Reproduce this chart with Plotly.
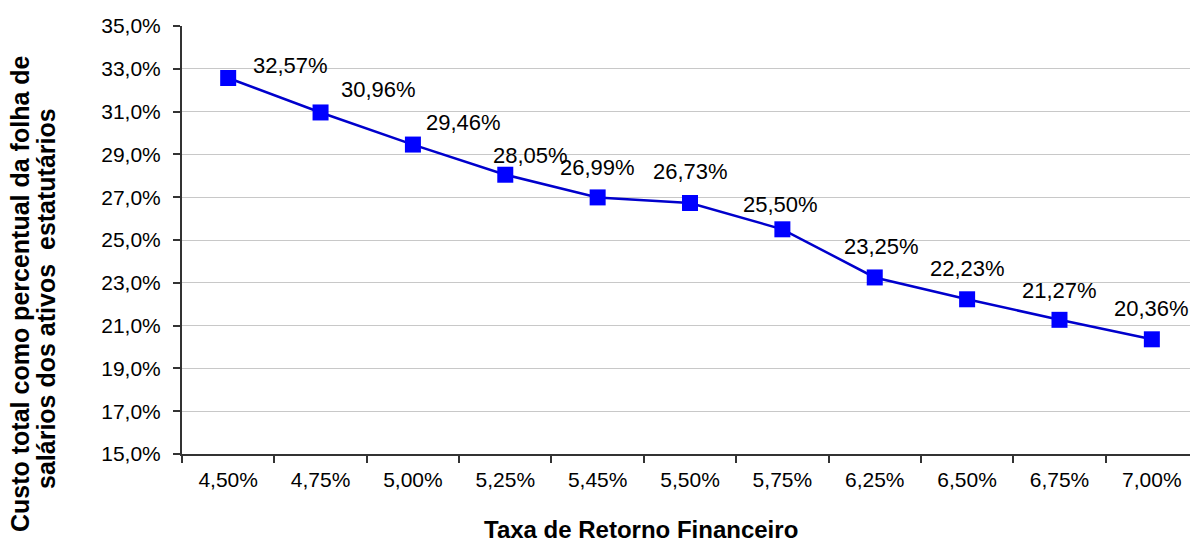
import plotly.graph_objects as go

categories = ["4,50%", "4,75%", "5,00%", "5,25%", "5,45%", "5,50%", "5,75%", "6,25%", "6,50%", "6,75%", "7,00%"]
values = [32.57, 30.96, 29.46, 28.05, 26.99, 26.73, 25.50, 23.25, 22.23, 21.27, 20.36]
y_ticks = [15, 17, 19, 21, 23, 25, 27, 29, 31, 33, 35]

# label placement offsets (pixels) relative to each marker
label_dx = [62, 58, 51, 25, 0, 0, -2, 7, 0, 0, 0]
label_dy = [13, 23, 22, 19, 30, 31, 25, 31, 31, 29, 31]

font = "Liberation Sans, Arial, sans-serif"
W, H = 1190, 547
ml, mr, mt, mb = 182, 0, 26, 93
pw, ph = W - ml - mr, H - mt - mb

fig = go.Figure()
fig.add_trace(go.Scatter(
    x=categories, y=values, mode="lines+markers",
    line=dict(color="#0000CC", width=2.5),
    marker=dict(symbol="square", size=16, color="#0000FF", line=dict(width=0)),
    showlegend=False, hoverinfo="skip",
))

annotations = []
for c, v, dx, dy in zip(categories, values, label_dx, label_dy):
    annotations.append(dict(
        x=c, y=v, xref="x", yref="y", text=f"{v:.2f}%".replace(".", ","),
        showarrow=False, xshift=dx, yshift=dy, xanchor="center", yanchor="middle",
        font=dict(family=font, size=22, color="#000000"),
    ))

def px_to_paper(px, py):
    return (px - ml) / pw, (H - py - mb) / ph

xt, yt = px_to_paper(641, 529)
annotations.append(dict(
    x=xt, y=yt, xref="paper", yref="paper", text="<b>Taxa de Retorno Financeiro</b>",
    showarrow=False, xanchor="center", yanchor="middle",
    font=dict(family=font, size=24, color="#000000"),
))
for text, px, py in [("<b>Custo total como percentual da folha de</b>", 20, 294),
                     ("<b>salários dos ativos  estatutários</b>", 46, 299)]:
    ax, ay = px_to_paper(px, py)
    annotations.append(dict(
        x=ax, y=ay, xref="paper", yref="paper", text=text,
        showarrow=False, textangle=-90, xanchor="center", yanchor="middle",
        font=dict(family=font, size=25, color="#000000"),
    ))

fig.update_layout(
    width=W, height=H,
    margin=dict(l=ml, r=mr, t=mt, b=mb),
    paper_bgcolor="white", plot_bgcolor="white",
    annotations=annotations,
    font=dict(family=font, size=21, color="#000000"),
)
fig.update_xaxes(
    type="category", tickson="boundaries", ticks="outside", ticklen=7,
    tickcolor="#333333", tickwidth=1.5, showline=True, linecolor="#333333", linewidth=2,
    showgrid=False, tickfont=dict(family=font, size=21, color="#000000"),
    range=[-0.5, 10.413], ticklabelstandoff=6,
)
fig.update_yaxes(
    range=[15, 35], tickvals=y_ticks,
    ticktext=[f"{t:.1f}%".replace(".", ",") for t in y_ticks],
    ticks="outside", ticklen=7, tickcolor="#333333", tickwidth=1.5,
    showline=True, linecolor="#333333", linewidth=2,
    showgrid=True, gridcolor="#C8C8C8", gridwidth=1.2, zeroline=False,
    tickfont=dict(family=font, size=21, color="#000000"), ticklabelstandoff=8,
)
fig.write_html(
    "out.html",
    config={"displayModeBar": False},
    post_script="document.body.style.margin='0';document.body.style.overflow='hidden';",
)
